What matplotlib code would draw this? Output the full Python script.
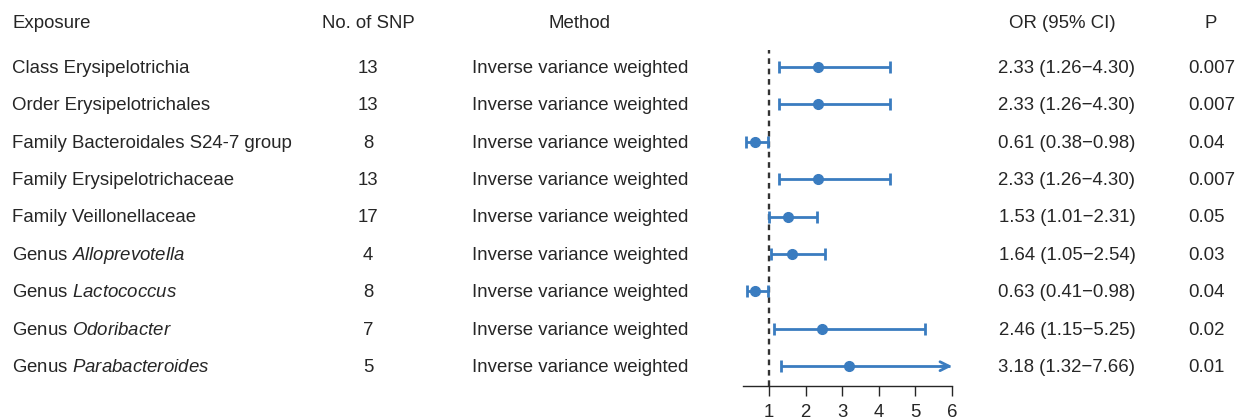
import matplotlib
matplotlib.use("Agg")
import matplotlib.pyplot as plt
from matplotlib.transforms import blended_transform_factory, offset_copy

plt.rcParams['font.family'] = ['Liberation Sans', 'DejaVu Sans']
plt.rcParams['mathtext.fontset'] = 'custom'
plt.rcParams['mathtext.rm'] = 'Liberation Sans'
plt.rcParams['mathtext.it'] = 'Liberation Sans:italic'

exposures = ["Class Erysipelotrichia", "Order Erysipelotrichales",
             "Family Bacteroidales S24-7 group", "Family Erysipelotrichaceae",
             "Family Veillonellaceae", r"Genus $\mathit{Alloprevotella}$",
             r"Genus $\mathit{Lactococcus}$", r"Genus $\mathit{Odoribacter}$",
             r"Genus $\mathit{Parabacteroides}$"]
n_snp = [13, 13, 8, 13, 17, 4, 8, 7, 5]
methods = ["Inverse variance weighted"] * 9
or_val = [2.33, 2.33, 0.61, 2.33, 1.53, 1.64, 0.63, 2.46, 3.18]
ci_low = [1.26, 1.26, 0.38, 1.26, 1.01, 1.05, 0.41, 1.15, 1.32]
ci_high = [4.30, 4.30, 0.98, 4.30, 2.31, 2.54, 0.98, 5.25, 7.66]
p_vals = ["0.007", "0.007", "0.04", "0.007", "0.05", "0.03", "0.04", "0.02", "0.01"]
headers = ["Exposure", "No. of SNP", "Method", "OR (95% CI)", "P"]
x_ticks = [1, 2, 3, 4, 5, 6]

W, H = 1240, 419
fig = plt.figure(figsize=(W / 100, H / 100), dpi=100)
blue = '#3a7cc0'
tc = '#262626'
fs = 13.4

# forest axes in pixel geometry
x0, x1 = 743, 952
ytop, ybot = 50, 386
ax = fig.add_axes([x0 / W, 1 - ybot / H, (x1 - x0) / W, (ybot - ytop) / H])
xmin, xmax = 0.29, 6.0
row0, rstep = 67, 37.4
ax.set_xlim(xmin, xmax)
ax.set_ylim(8 + (ybot - (row0 + 8 * rstep)) / rstep, -(row0 - ytop) / rstep)

for i in range(len(or_val)):
    hi = ci_high[i]
    if hi > xmax:
        ax.plot([ci_low[i], xmax - 0.05], [i, i], color=blue, lw=2, solid_capstyle='butt')
        ax.annotate('', xy=(xmax, i), xytext=(xmax - 0.3, i),
                    arrowprops=dict(arrowstyle='->', color=blue, lw=2,
                                    mutation_scale=16, shrinkA=0, shrinkB=0))
        ax.plot([ci_low[i]], [i], marker='|', color=blue, ms=8, mew=2)
    else:
        ax.errorbar(or_val[i], i, xerr=[[or_val[i] - ci_low[i]], [hi - or_val[i]]],
                    fmt='none', ecolor=blue, elinewidth=2, capsize=4, capthick=2)
    ax.plot(or_val[i], i, 'o', color=blue, ms=7, zorder=5)

ax.axvline(1, color='#333333', lw=1.7, ls=(0, (2.4, 2.0)), zorder=1)

for s in ['top', 'right', 'left']:
    ax.spines[s].set_visible(False)
ax.spines['bottom'].set_color(tc)
ax.spines['bottom'].set_linewidth(1.0)
ax.set_yticks([])
ax.set_xticks(x_ticks)
ax.tick_params(axis='x', length=7, width=1.0, color=tc, labelsize=fs,
               labelcolor=tc, pad=6)

tr0 = blended_transform_factory(fig.transFigure, ax.transData)
tr = offset_copy(tr0, fig=fig, x=0, y=-1.2, units='dots')
trh = offset_copy(tr0, fig=fig, x=0, y=-2.0, units='dots')
hy = -(row0 - 22) / rstep
col_x = [12 / W, 368 / W, 580 / W, 1062 / W, 1211 / W]
col_ha = ['left', 'center', 'center', 'center', 'center']
for h, cx, ha in zip(headers, col_x, col_ha):
    fig.text(cx, hy, h, transform=trh, ha=ha, va='center', fontsize=fs, color=tc)

for i in range(len(or_val)):
    fig.text(12 / W, i, exposures[i], transform=tr, ha='left', va='center', fontsize=fs, color=tc)
    fig.text(368 / W, i, str(n_snp[i]), transform=tr, ha='center', va='center', fontsize=fs, color=tc)
    fig.text(580 / W, i, methods[i], transform=tr, ha='center', va='center', fontsize=fs, color=tc)
    fig.text(1067 / W, i, f"{or_val[i]:.2f} ({ci_low[i]:.2f}\u2212{ci_high[i]:.2f})",
             transform=tr, ha='center', va='center', fontsize=fs, color=tc)
    fig.text(1188 / W, i, p_vals[i], transform=tr, ha='left', va='center', fontsize=fs, color=tc)

fig.savefig("out.png", dpi=100)
